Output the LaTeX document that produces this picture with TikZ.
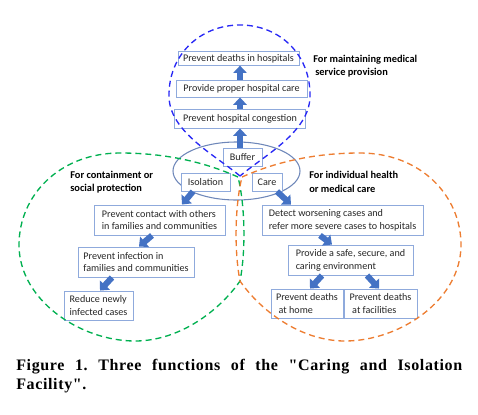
\documentclass[tikz,border=0pt]{standalone}
\usepackage{fontspec}
\setmainfont{Carlito}
\newfontfamily\capfont{Liberation Serif}[LetterSpace=4]
\usepackage{tikz}
\usetikzlibrary{shapes.geometric, arrows.meta, calc}
\definecolor{boxedge}{RGB}{143,170,220}
\definecolor{arrowblue}{RGB}{68,114,196}
\definecolor{hubedge}{RGB}{110,135,185}
\definecolor{zoneblue}{RGB}{40,40,245}
\definecolor{zonegreen}{RGB}{0,176,80}
\definecolor{zoneorange}{RGB}{237,125,49}

\begin{document}
\begin{tikzpicture}[
        x=0.75pt, y=-0.75pt,
        boxnode/.style={rectangle, draw=boxedge, fill=white, line width=0.7pt, inner sep=1.5pt, align=center, text=black!85, font=\fontsize{7.6}{9.6}\selectfont},
        twoline/.style={boxnode, align=left, minimum height=22.5pt},
        headnode/.style={align=left, inner sep=0pt, font=\fontsize{7.8}{10}\selectfont\bfseries},
        flowarrow/.style={-{Triangle[width=10pt, length=5.5pt]}, line width=4.5pt, color=arrowblue},
        zoneline/.style={line width=1pt, dash pattern=on 4.5pt off 3pt}
    ]
        \useasboundingbox (0,0) rectangle (478,414);

        % Central hub
        \node[ellipse, draw=hubedge, line width=0.8pt, minimum width=95.25pt, minimum height=43.5pt] (hub) at (236.5,171) {};
        \node[boxnode, minimum width=29.25pt, minimum height=13.5pt] (buffer) at (242.5,157) {Buffer};
        \node[boxnode, minimum width=36.75pt, minimum height=13.5pt] (isol) at (205.5,182) {Isolation};
        \node[boxnode, minimum width=22.5pt, minimum height=13.5pt] (care) at (267,182) {Care};

        % Medical service chain
        \node[boxnode, minimum width=98.25pt, minimum height=14.25pt] (congest) at (240,118.5) {Prevent hospital congestion};
        \node[boxnode, minimum width=98.25pt, minimum height=12.75pt] (hospcare) at (241.5,88.5) {Provide proper hospital care};
        \node[boxnode, minimum width=90.75pt, minimum height=10pt] (deaths) at (238.5,58.5) {Prevent deaths in hospitals};

        % Containment chain
        \node[twoline, minimum width=98.25pt] (contact) at (159.5,220) {Prevent contact with others\\in families and communities};
        \node[twoline, minimum width=87pt] (infect) at (136,262) {Prevent infection in\\families and communities};
        \node[twoline, minimum width=51.75pt, minimum height=21.75pt] (reduce) at (98.5,305.5) {Reduce newly\\infected cases};

        % Care chain
        \node[twoline, minimum width=120.75pt] (detect) at (342.5,220) {Detect worsening cases and\\refer more severe cases to hospitals};
        \node[twoline, minimum width=93.75pt] (safe) at (350.5,260) {Provide a safe, secure, and\\caring environment};
        \node[twoline, minimum width=54pt, minimum height=21.75pt] (home) at (307,303.5) {Prevent deaths\\\hspace{2pt}at home};
        \node[twoline, minimum width=54.75pt, minimum height=21.75pt] (facil) at (380.5,303.5) {Prevent deaths\\\hspace{2pt}at facilities};

        % Zone titles
        \node[headnode, anchor=west] (medlabel) at (313,66) {For maintaining medical\\\hspace{1.5pt}service provision};
        \node[headnode, anchor=west] (contlabel) at (70,182) {For containment or\\social protection};
        \node[headnode, anchor=west] (indlabel) at (309,182) {For individual health\\or medical care};

        % Arrows
        \draw[flowarrow] (congest.south |- buffer.north) -- (congest.south);
        \draw[flowarrow] (congest.north) -- (congest.north |- hospcare.south);
        \draw[flowarrow] (congest.north |- hospcare.north) -- (congest.north |- deaths.south);
        \draw[flowarrow] ($(isol.south)+(-12.5,0)$) -- ($(contact.north)+(22.5,0)$);
        \draw[flowarrow] ($(contact.south)+(-7.5,0)$) -- ($(infect.north)+(3,0)$);
        \draw[flowarrow] ($(infect.south)+(-24,0)$) -- ($(reduce.north)+(1.5,0)$);
        \draw[flowarrow] ($(care.south)+(10,0)$) -- ($(detect.north)+(-51.5,0)$);
        \draw[flowarrow] ($(detect.south)+(-22.5,0)$) -- ($(safe.north)+(-18.5,0)$);
        \draw[flowarrow] ($(safe.south)+(-28.5,0)$) -- ($(home.north)+(3,0)$);
        \draw[flowarrow] ($(safe.south)+(16.5,0)$) -- ($(facil.north)+(-1.5,0)$);

        % Dashed zones
        \draw[zoneline, zoneblue] (240,176) .. controls (215,155) and (170,132) .. (169,97)
            .. controls (168,55) and (200,25) .. (240,25)
            .. controls (280,25) and (311,55) .. (310,97)
            .. controls (309,132) and (265,155) .. (240,176);
        \draw[zoneline, zonegreen] (238,177) .. controls (200,160) and (160,153) .. (120,153)
            .. controls (60,153) and (19,195) .. (19,245)
            .. controls (19,300) and (80,341) .. (135,341)
            .. controls (180,341) and (220,310) .. (240,281)
            .. controls (246,250) and (245,205) .. (238,177);
        \draw[zoneline, zoneorange] (242,177) .. controls (280,160) and (320,153) .. (360,153)
            .. controls (420,153) and (461,195) .. (461,245)
            .. controls (461,300) and (400,341) .. (345,341)
            .. controls (300,341) and (260,310) .. (240,281)
            .. controls (234,250) and (235,205) .. (242,177);

        % Caption
        \node[anchor=north west, inner sep=0pt, text width=334.5pt, align=justify, font=\capfont\bfseries\frenchspacing\fontsize{12}{14.25}\selectfont] (caption) at (16,359) {Figure 1. Three functions of the "Caring and Isolation\linebreak Facility".};
    \end{tikzpicture}
\end{document}
